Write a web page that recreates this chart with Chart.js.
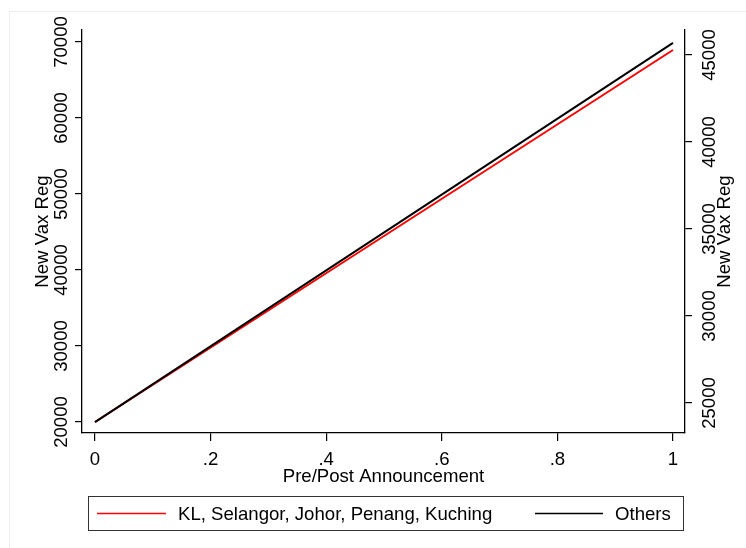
<!DOCTYPE html>
<html>
<head>
<meta charset="utf-8">
<script src="https://cdn.jsdelivr.net/npm/chart.js@4.4.1/dist/chart.umd.min.js"></script>
<style>
  html, body { margin: 0; padding: 0; background: #fff; }
</style>
</head>
<body>
<canvas id="chart" width="746" height="548"></canvas>
<script>
// fitted lines: x = pre/post announcement
const xValues = [0, 1];
const klValues = [20000, 68950];      // left axis
const otherValues = [23900, 45700];   // right axis

const xTicks = [0, 0.2, 0.4, 0.6, 0.8, 1];
const xTickLabels = ['0', '.2', '.4', '.6', '.8', '1'];
const leftTicks = [20000, 30000, 40000, 50000, 60000, 70000];
const rightTicks = [25000, 30000, 35000, 40000, 45000];

const seriesNames = ['KL, Selangor, Johor, Penang, Kuching', 'Others'];
const FONT = '18.6px "Liberation Sans", Arial, sans-serif';

// axis look, shared by all three scales
function axisOpts(extra) {
    return Object.assign({
        type: 'linear',
        grid: { display: true, drawOnChartArea: false, drawTicks: true, tickLength: 7, color: '#000', tickColor: '#000', lineWidth: 1.2 },
        border: { display: true, color: '#000', width: 1.3 },
        ticks: { display: false }
    }, extra);
}

// tick labels, titles, legend box (Stata style)
const axisText = {
    id: 'axisText',
    afterDraw(chart) {
        const { ctx, chartArea: a, scales: { x, y, y2 } } = chart;
        ctx.save();

        // faint graph region outline
        ctx.strokeStyle = '#eeeeee';
        ctx.lineWidth = 1;
        ctx.beginPath();
        ctx.moveTo(9.5, 548); ctx.lineTo(9.5, 11.5); ctx.lineTo(746, 11.5);
        ctx.stroke();

        ctx.fillStyle = '#000';
        ctx.font = FONT;

        // x axis
        ctx.textAlign = 'center';
        ctx.textBaseline = 'alphabetic';
        xTicks.forEach((v, i) => ctx.fillText(xTickLabels[i], x.getPixelForValue(v), a.bottom + 32));
        ctx.fillText('Pre/Post Announcement', (a.left + a.right) / 2, a.bottom + 49);

        // vertical text, reading bottom to top
        const vText = (txt, px, py) => {
            ctx.save();
            ctx.translate(px, py);
            ctx.rotate(-Math.PI / 2);
            ctx.fillText(txt, 0, 0);
            ctx.restore();
        };
        leftTicks.forEach(v => vText(String(v), a.left - 15, y.getPixelForValue(v)));
        rightTicks.forEach(v => vText(String(v), a.right + 30, y2.getPixelForValue(v)));
        const midY = (a.top + a.bottom) / 2;
        vText('New Vax Reg', a.left - 34, midY);
        vText('New Vax Reg', a.right + 45, midY);

        // legend
        const ds = chart.data.datasets;
        ctx.strokeStyle = '#333';
        ctx.lineWidth = 1;
        ctx.strokeRect(88.5, 496.5, 595, 34);
        const items = [
            { line: [97, 166], text: 178, color: ds[0].borderColor, label: ds[0].label },
            { line: [535, 603], text: 615, color: ds[1].borderColor, label: ds[1].label }
        ];
        ctx.textAlign = 'left';
        items.forEach(it => {
            ctx.strokeStyle = it.color;
            ctx.lineWidth = 1.6;
            ctx.beginPath();
            ctx.moveTo(it.line[0], 513.5);
            ctx.lineTo(it.line[1], 513.5);
            ctx.stroke();
            ctx.fillText(it.label, it.text, 520);
        });

        ctx.restore();
    }
};

new Chart(document.getElementById('chart').getContext('2d'), {
    type: 'line',
    data: {
        datasets: [
            {
                label: seriesNames[0],
                data: xValues.map((v, i) => ({ x: v, y: klValues[i] })),
                yAxisID: 'y',
                borderColor: '#ff0000',
                borderWidth: 2,
                pointRadius: 0,
                order: 2
            },
            {
                label: seriesNames[1],
                data: xValues.map((v, i) => ({ x: v, y: otherValues[i] })),
                yAxisID: 'y2',
                borderColor: '#000000',
                borderWidth: 2,
                pointRadius: 0,
                order: 1
            }
        ]
    },
    options: {
        responsive: false,
        animation: false,
        layout: { padding: { left: 75, right: 54, top: 30, bottom: 107 } },
        plugins: { legend: { display: false }, tooltip: { enabled: false } },
        scales: {
            x: axisOpts({
                position: 'bottom', min: -0.0225, max: 1.0208,
                grid: { display: true, drawOnChartArea: false, tickLength: 8, color: '#000', tickColor: '#000', lineWidth: 1.2 },
                afterBuildTicks: s => { s.ticks = xTicks.map(v => ({ value: v })); }
            }),
            y: axisOpts({
                position: 'left', min: 18553, max: 71579,
                afterBuildTicks: s => { s.ticks = leftTicks.map(v => ({ value: v })); }
            }),
            y2: axisOpts({
                position: 'right', min: 23276, max: 46437,
                afterBuildTicks: s => { s.ticks = rightTicks.map(v => ({ value: v })); }
            })
        }
    },
    plugins: [axisText]
});
</script>
</body>
</html>
